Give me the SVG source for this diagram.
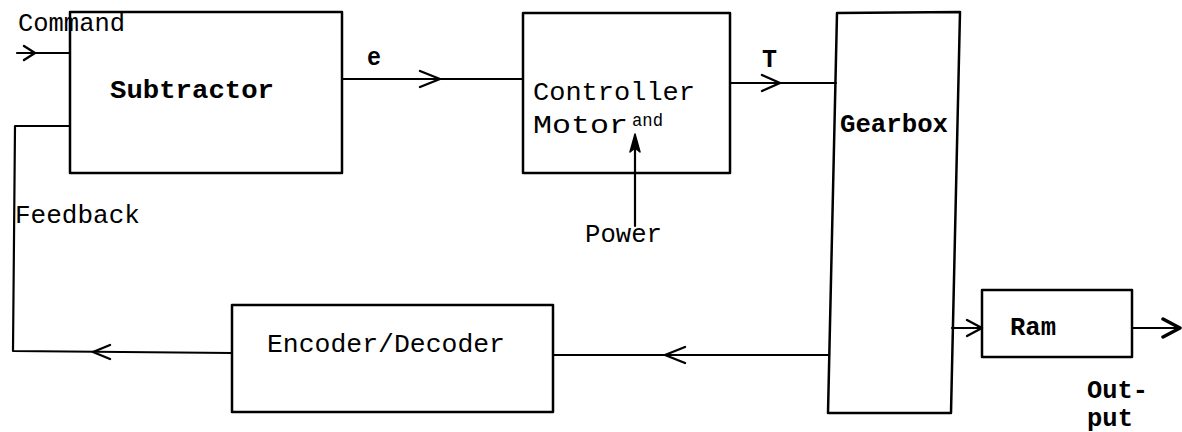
<svg xmlns="http://www.w3.org/2000/svg" width="1182" height="432" viewBox="0 0 1182 432">
<style>
.box{fill:none;stroke:#000;stroke-width:2.5;stroke-linejoin:round}
.ln{fill:none;stroke:#000;stroke-width:2.2;stroke-linecap:round;stroke-linejoin:round}
.chev{fill:none;stroke:#000;stroke-width:2.4;stroke-linecap:round;stroke-linejoin:round}
.t{font-family:"Liberation Mono","Courier New",monospace;font-size:26px;fill:#000}
.b{font-weight:bold}
.s{font-size:19px}
</style>
<rect width="1182" height="432" fill="#fff"/>
<g id="connectors">
  <path class="ln" d="M17,53 H70"/>
  <path class="chev" d="M24,46 L35,53 L24,60" stroke-width="3"/>
  <path class="ln" d="M342,79 H523"/>
  <path class="chev" d="M420,71 L440,79 L420,87"/>
  <path class="ln" d="M730,83 H836"/>
  <path class="chev" d="M762,75 L780,83 L762,91"/>
  <path class="ln" d="M635,226 V145"/>
  <path d="M635,134 L640,152 L635,148 L630,152 Z" fill="#000" stroke="#000" stroke-width="1.5" stroke-linejoin="round"/>
  <path class="ln" d="M828,355 H553"/>
  <path class="chev" d="M685,347 L665,355 L685,363"/>
  <path class="ln" d="M232,353 L13,351 L15,126 H70"/>
  <path class="chev" d="M110,345 L93,352 L110,359"/>
  <path class="ln" d="M952,328 H982"/>
  <path class="chev" d="M967,320 L982,328 L967,336"/>
  <path class="ln" d="M1132,328 H1178" stroke-width="3.2"/>
  <path d="M1163,319 L1180,328 L1163,337" fill="none" stroke="#000" stroke-width="3.5" stroke-linecap="round" stroke-linejoin="round"/>
</g>
<g id="subtractor">
  <rect class="box" x="70" y="12" width="272" height="161"/>
  <text class="t b" x="110" y="98" textLength="164" lengthAdjust="spacingAndGlyphs">Subtractor</text>
</g>
<g id="controller">
  <rect class="box" x="523" y="13" width="207" height="160"/>
  <text class="t" x="533" y="100" textLength="162" lengthAdjust="spacingAndGlyphs">Controller</text>
  <text class="t" x="533" y="133" textLength="95" lengthAdjust="spacingAndGlyphs">Motor</text>
  <text class="t s" x="632" y="126" textLength="31" lengthAdjust="spacingAndGlyphs">and</text>
</g>
<g id="gearbox">
  <path class="box" d="M837,13 L960,12 L951,413 L828,413 Z"/>
  <text class="t b" x="840" y="132" textLength="108" lengthAdjust="spacingAndGlyphs">Gearbox</text>
</g>
<g id="encoder">
  <rect class="box" x="232" y="305" width="321" height="107"/>
  <text class="t" x="267" y="352" textLength="238" lengthAdjust="spacingAndGlyphs">Encoder/Decoder</text>
</g>
<g id="ram">
  <rect class="box" x="982" y="290" width="150" height="67"/>
  <text class="t b" x="1010" y="335" textLength="46" lengthAdjust="spacingAndGlyphs">Ram</text>
</g>
<g id="labels">
  <text class="t" x="18" y="31" textLength="107" lengthAdjust="spacingAndGlyphs">Command</text>
  <text class="t b" x="367" y="65" textLength="14" lengthAdjust="spacingAndGlyphs">e</text>
  <text class="t b" x="762" y="67" textLength="15" lengthAdjust="spacingAndGlyphs">T</text>
  <text class="t" x="15" y="223" textLength="125" lengthAdjust="spacingAndGlyphs">Feedback</text>
  <text class="t" x="585" y="242" textLength="77" lengthAdjust="spacingAndGlyphs">Power</text>
  <text class="t b" x="1087" y="398" textLength="61" lengthAdjust="spacingAndGlyphs">Out-</text>
  <text class="t b" x="1087" y="426" textLength="46" lengthAdjust="spacingAndGlyphs">put</text>
</g>
</svg>
